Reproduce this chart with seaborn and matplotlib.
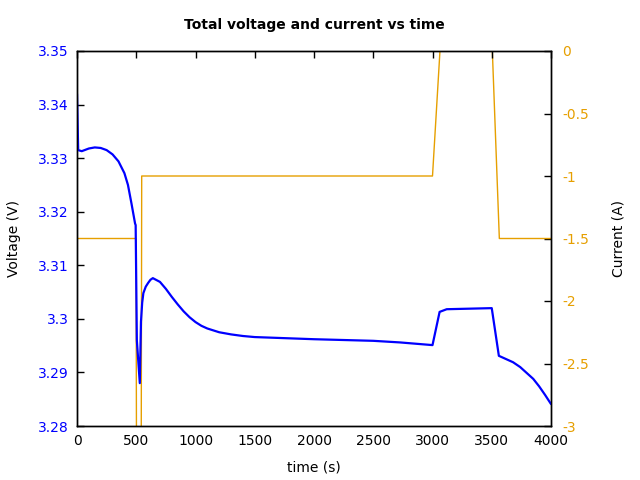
import matplotlib
matplotlib.use('Agg')
import matplotlib.pyplot as plt
import seaborn as sns
import pandas as pd

# voltage trace
t_volt = [0, 10, 40, 100, 150, 200, 250, 300, 350, 400, 430, 460, 490,
          495, 505, 530, 540, 550, 560, 580, 600, 620, 640, 700, 750, 800, 850,
          900, 950, 1000, 1050, 1100, 1200, 1300, 1400, 1500, 2000, 2500, 2726,
          3000, 3060, 3120, 3500, 3560, 3620, 3680, 3740, 3800, 3850, 3900, 3950, 4000]
voltage = [3.342, 3.3315, 3.3313, 3.3318, 3.332, 3.3319, 3.3315, 3.3307, 3.3294,
           3.3272, 3.325, 3.3215, 3.3178,
           3.3175, 3.296, 3.288, 3.2995, 3.3030, 3.3048, 3.3060, 3.3067, 3.3073,
           3.3076, 3.3069, 3.3056, 3.3041, 3.3027, 3.3014, 3.3003, 3.2994, 3.2987,
           3.2982, 3.2975, 3.2971, 3.2968, 3.2966, 3.2962, 3.2959, 3.2956,
           3.2951, 3.3013, 3.3018, 3.3020, 3.2931, 3.2925, 3.2919, 3.2910, 3.2898,
           3.2888, 3.2874, 3.2858, 3.2841]

# current steps
t_curr = [0, 2, 498, 502, 542, 546, 3000, 3063, 3505, 3564, 4000]
current = [0, -1.5, -1.5, -3.2, -3.2, -1, -1, 0, 0, -1.5, -1.5]

df_v = pd.DataFrame({'time': t_volt, 'voltage': voltage})
df_c = pd.DataFrame({'time': t_curr, 'current': current})

sns.set_style('white')
plt.rcParams['font.family'] = ['DejaVu Sans']
plt.rcParams['xtick.direction'] = 'in'
plt.rcParams['ytick.direction'] = 'in'
plt.rcParams['text.color'] = 'black'
plt.rcParams['axes.labelcolor'] = 'black'

fig = plt.figure(figsize=(6.4, 4.8), dpi=100)
ax = fig.add_axes([77/640, 1 - 426/480, 474/640, 375/480])
ax2 = ax.twinx()

sns.lineplot(data=df_c, x='time', y='current', ax=ax2, color='#e69f00',
             linewidth=1, sort=False, estimator=None)
sns.lineplot(data=df_v, x='time', y='voltage', ax=ax, color='#0000ff',
             linewidth=1.6, sort=False, estimator=None)

# voltage on top of current
ax.set_zorder(ax2.get_zorder() + 1)
ax.patch.set_visible(False)

ax.set_xlim(0, 4000)
ax.set_ylim(3.28, 3.35)
ax2.set_ylim(-3, 0)
ax.set_xticks(range(0, 4001, 500))
ax.set_yticks([3.28, 3.29, 3.30, 3.31, 3.32, 3.33, 3.34, 3.35])
ax.set_yticklabels(['3.28', '3.29', '3.3', '3.31', '3.32', '3.33', '3.34', '3.35'])
ax2.set_yticks([-3, -2.5, -2, -1.5, -1, -0.5, 0])
ax2.set_yticklabels(['-3', '-2.5', '-2', '-1.5', '-1', '-0.5', '0'])

ax.tick_params(axis='x', top=True, length=5, width=1, labelsize=10, colors='black', pad=6)
ax.tick_params(axis='y', left=True, right=False, length=5, width=1, labelsize=10,
               labelcolor='#0000ff', color='black', pad=6)
ax2.tick_params(axis='y', right=True, length=5, width=1, labelsize=10,
                labelcolor='#e69f00', color='black', pad=8)

for a in (ax, ax2):
    for s in a.spines.values():
        s.set_color('black')
        s.set_linewidth(1)

ax.set_xlabel('time (s)', fontsize=10, labelpad=9, color='black')
ax.set_ylabel('Voltage (V)', fontsize=10, labelpad=12, color='black')
ax2.set_ylabel('Current (A)', fontsize=10, labelpad=16, color='black')
ax.set_title('Total voltage and current vs time', fontsize=10, fontweight='bold',
             pad=16, color='black')

plt.savefig('out.png', dpi=100)
